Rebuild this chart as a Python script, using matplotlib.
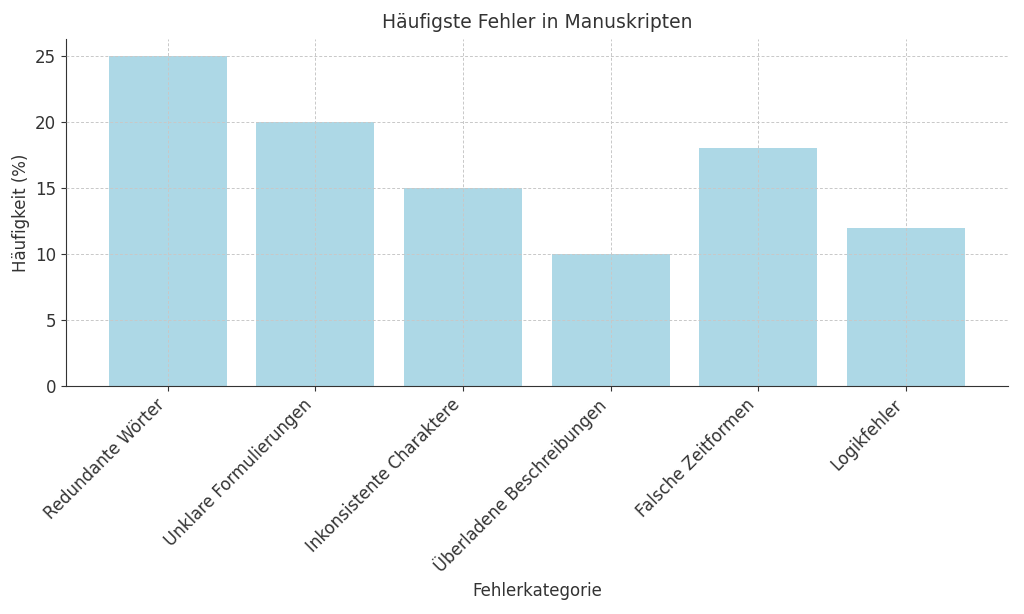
import matplotlib
matplotlib.use("Agg")
import matplotlib.pyplot as plt

categories = ["Redundante Wörter", "Unklare Formulierungen", "Inkonsistente Charaktere",
              "Überladene Beschreibungen", "Falsche Zeitformen", "Logikfehler"]
values = [25, 20, 15, 10, 18, 12]

plt.rcParams['font.family'] = ['DejaVu Sans']
tc = '#333333'
fig = plt.figure(figsize=(10.24, 6.14), dpi=100)
ax = fig.add_axes([0.0645, 0.3713, 0.9195, 0.5644])
ax.bar(categories, values, color='#add8e6', width=0.8, zorder=1)
ax.grid(True, linestyle=(0, (3, 2)), color='#c8c8c8', linewidth=0.7, zorder=3)
ax.set_axisbelow(False)
for s in ['top', 'right']:
    ax.spines[s].set_visible(False)
for s in ['left', 'bottom']:
    ax.spines[s].set_color(tc)
ax.set_title("Häufigste Fehler in Manuskripten", fontsize=13.5, color=tc, pad=8)
ax.set_xlabel("Fehlerkategorie", fontsize=12, color=tc)
ax.set_ylabel("Häufigkeit (%)", fontsize=12, color=tc)
ax.tick_params(colors=tc, labelsize=12)
plt.setp(ax.get_xticklabels(), rotation=45, ha='right', rotation_mode='default', fontsize=12)
fig.savefig("out.png", dpi=100)
